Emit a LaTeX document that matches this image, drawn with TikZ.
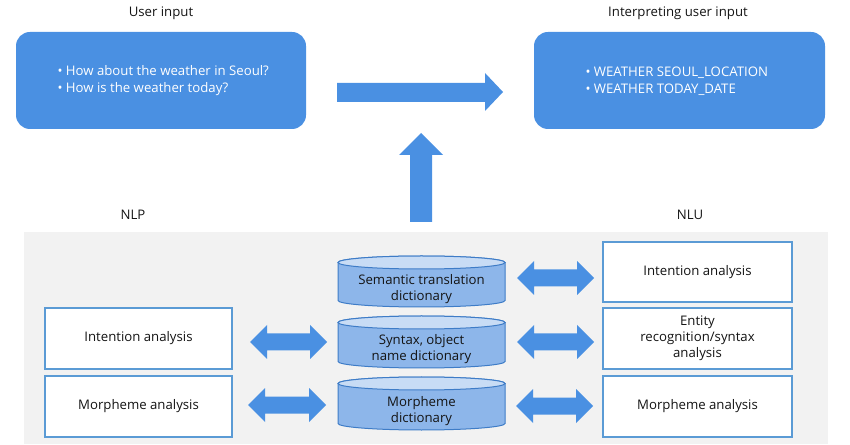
\documentclass[tikz,border=0pt]{standalone}
\usepackage{fontspec}
\setmainfont{Open Sans}
\definecolor{ablue}{RGB}{74,144,226}
\definecolor{bordblue}{RGB}{91,155,213}
\definecolor{cylfill}{RGB}{141,182,234}
\definecolor{cyltop}{RGB}{200,220,245}
\definecolor{cyledge}{RGB}{62,124,199}
\definecolor{bggray}{RGB}{242,242,242}
\definecolor{txt}{RGB}{20,20,20}
\tikzset{
  topbox/.style={fill=ablue, draw=none, rounded corners=14pt},
  wbox/.style={draw=bordblue, line width=1.8pt, fill=white, inner sep=0pt},
  lbl/.style={font=\fontsize{13.2}{16}\selectfont, text=txt, align=center},
  bigarrow/.style={fill=ablue, draw=none},
  cylbody/.style={fill=cylfill, draw=cyledge, line width=1pt},
  cylcap/.style={fill=cyltop, draw=cyledge, line width=1pt},
}
\newcommand{\dblarrow}[3]{% x1, x2, y
  \fill[bigarrow] (#1,#3) -- (#1+17,#3+17) -- (#1+17,#3+8.5) -- (#2-17,#3+8.5) -- (#2-17,#3+17)
    -- (#2,#3) -- (#2-17,#3-17) -- (#2-17,#3-8.5) -- (#1+17,#3-8.5) -- (#1+17,#3-17) -- cycle;}
\newcommand{\mycyl}[4]{% name, ytop center, ybottom center, text
  \filldraw[cylbody] (338,#2) -- (338,#3) arc[start angle=180,end angle=360,x radius=83.5,y radius=6.5]
     -- (505,#2) arc[start angle=0,end angle=180,x radius=83.5,y radius=6.5] -- cycle;
  \filldraw[cylcap] (421.5,#2) ellipse[x radius=83.5,y radius=6.5];
  \node[lbl] (#1) at (421.5,{(#2+#3)/2-7.5}) {#4};}
\begin{document}
\begin{tikzpicture}[x=1pt,y=1pt]
\useasboundingbox (0,0) rectangle (850,444);
\fill[bggray] (24,0) rectangle (828,212);

% titles
\node[lbl] (t1) at (161,431) {User input};
\node[lbl] (t2) at (678,431) {Interpreting user input};

% top boxes
\fill[topbox] (16,315) rectangle (306,412);
\fill[topbox] (534,315) rectangle (825,412);
\node[lbl, text=white, align=left, anchor=west] (in) at (54,363) {• How about the weather in Seoul?\\[1pt]• How is the weather today?};
\node[lbl, text=white, align=left, anchor=west] (out) at (582,363) {• WEATHER SEOUL\_LOCATION\\[1pt]• WEATHER TODAY\_DATE};

% right arrow
\fill[bigarrow] (337,361) -- (485,361) -- (485,371) -- (503,352) -- (485,333) -- (485,342) -- (337,342) -- cycle;
% up arrow
\fill[bigarrow] (410,222) -- (410,289) -- (399,289) -- (421,311) -- (443,289) -- (432,289) -- (432,222) -- cycle;

% section labels
\node[lbl] (nlp) at (133,229) {NLP};
\node[lbl] (nlu) at (690,229) {NLU};

% cylinders
\mycyl{c1}{181.5}{143.5}{Semantic translation\\dictionary}
\mycyl{c2}{121.5}{82.5}{Syntax, object\\name dictionary}
\mycyl{c3}{60.5}{20.5}{Morpheme\\dictionary}

% left boxes
\draw[wbox] (45,75) rectangle (232,136);
\node[lbl] (l1) at (138.5,105.5) {Intention analysis};
\draw[wbox] (45,7) rectangle (232,68);
\node[lbl] (l2) at (138.5,37.5) {Morpheme analysis};

% right boxes
\draw[wbox] (603,142) rectangle (792,202);
\node[lbl] (r1) at (697.5,172) {Intention analysis};
\draw[wbox] (603,75) rectangle (792,136);
\node[lbl] (r2) at (697.5,105.5) {Entity\\recognition/syntax\\analysis};
\draw[wbox] (603,7) rectangle (792,68);
\node[lbl] (r3) at (697.5,37.5) {Morpheme analysis};

% double arrows
\dblarrow{250}{327}{102}
\dblarrow{248}{326}{39}
\dblarrow{517}{594}{166}
\dblarrow{517}{594}{102}
\dblarrow{516}{593}{38}
\end{tikzpicture}
\end{document}
